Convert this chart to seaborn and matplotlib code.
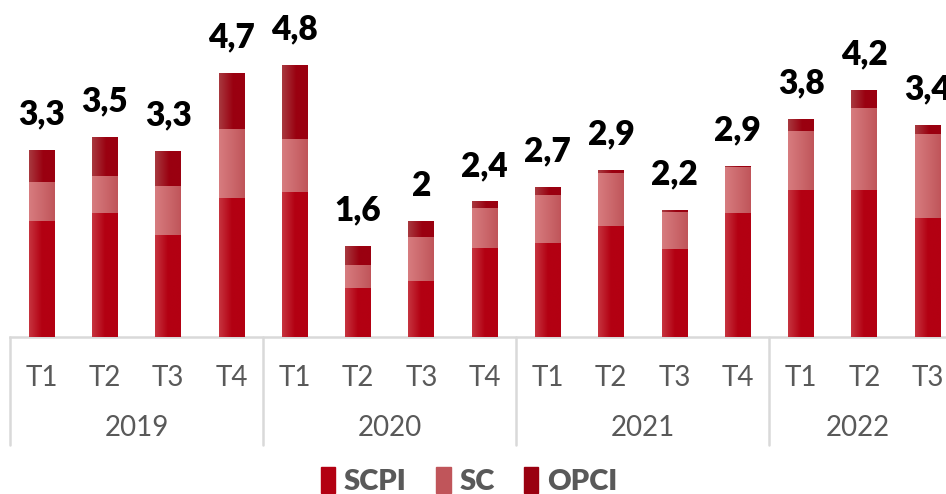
import numpy as np
import pandas as pd
import matplotlib.pyplot as plt
import matplotlib.colors as mcolors
import matplotlib.transforms as mtransforms
from matplotlib.patches import Patch
import seaborn as sns

# data
years = ["2019", "2020", "2021", "2022"]
quarters = ["T1", "T2", "T3", "T4", "T1", "T2", "T3", "T4",
            "T1", "T2", "T3", "T4", "T1", "T2", "T3"]
scpi = [2.04, 2.19, 1.79, 2.46, 2.55, 0.85, 0.99, 1.56, 1.66, 1.95, 1.54, 2.19, 2.60, 2.60, 2.09]
sc = [0.69, 0.65, 0.88, 1.22, 0.94, 0.41, 0.78, 0.71, 0.85, 0.94, 0.67, 0.81, 1.04, 1.45, 1.50]
opci = [0.57, 0.69, 0.62, 0.99, 1.31, 0.34, 0.27, 0.12, 0.14, 0.05, 0.035, 0.02, 0.21, 0.32, 0.16]
labels = ["3,3", "3,5", "3,3", "4,7", "4,8", "1,6", "2", "2,4",
          "2,7", "2,9", "2,2", "2,9", "3,8", "4,2", "3,4"]

cats = [f"{years[i // 4]} {q}" for i, q in enumerate(quarters)]
df = pd.DataFrame({"cat": cats, "SCPI": scpi, "SC": sc, "OPCI": opci})
df["mid"] = df["SCPI"] + df["SC"]
df["total"] = df["mid"] + df["OPCI"]

sns.set_theme(style="white")
plt.rcParams["font.family"] = ["Lato", "DejaVu Sans"]

fig = plt.figure(figsize=(9.46, 4.94), dpi=100)
ax = fig.add_axes([10 / 946, 157 / 494, 936 / 946, 337 / 494])

# colours: (left edge, right edge, where the gradient stops)
styles = {
    "OPCI": ("#A8393F", "#9A0010", 0.55),
    "SC": ("#D77C7F", "#C0555A", 1.0),
    "SCPI": ("#C6343F", "#B30012", 0.5),
}


def shade(patches, key, z):
    left, right, stop = styles[key]
    c0 = np.array(mcolors.to_rgb(left))
    c1 = np.array(mcolors.to_rgb(right))
    t = np.clip(np.linspace(0, 1, 64) / stop, 0, 1)
    grad = (c0[None, :] * (1 - t[:, None]) + c1[None, :] * t[:, None])[None, :, :]
    for p in patches:
        x0, y0 = p.get_x(), p.get_y()
        ax.imshow(grad, extent=[x0, x0 + p.get_width(), y0, y0 + p.get_height()],
                  aspect="auto", zorder=z, interpolation="bilinear")


# stacked bars: draw cumulative totals on top of each other
for z, (col, key) in enumerate([("total", "OPCI"), ("mid", "SC"), ("SCPI", "SCPI")]):
    n0 = len(ax.patches)
    sns.barplot(data=df, x="cat", y=col, order=cats, color=styles[key][1],
                width=0.41, ax=ax, saturation=1)
    shade(ax.patches[n0:], key, 2 + z)

# total labels
for i, (tot, lab) in enumerate(zip(df["total"], labels)):
    ax.annotate(lab, (i, tot), xytext=(0, 26), textcoords="offset points",
                ha="center", va="center", fontsize=24, fontweight="heavy",
                color="black", zorder=10)

ax.set_xlim(-0.5, 14.29)
ax.set_ylim(0, 5.965)
ax.set_yticks([])
ax.set_xlabel("")
ax.set_ylabel("")
for s in ["left", "right", "top"]:
    ax.spines[s].set_visible(False)
ax.spines["bottom"].set_color("#D9D9D9")
ax.spines["bottom"].set_linewidth(1.8)

ax.set_xticks(range(len(cats)))
ax.set_xticklabels(quarters)
ax.tick_params(axis="x", length=0, pad=20, labelsize=20, labelcolor="#595959")

# year groups
trans = mtransforms.blended_transform_factory(ax.transData, ax.transAxes)
bounds = [-0.5, 3.5, 7.5, 11.5]
for b in bounds:
    ax.plot([b, b], [0, -108 / 337], transform=trans, color="#D9D9D9",
            lw=1.8, clip_on=False)
ends = bounds[1:] + [ax.get_xlim()[1]]
for y, b0, b1 in zip(years, bounds, ends):
    ax.text((b0 + b1) / 2, -91 / 337, y, transform=trans, ha="center", va="center",
            fontsize=20, color="#595959")

handles = [Patch(color=styles[k][1]) for k in ["SCPI", "SC", "OPCI"]]
leg = fig.legend(handles, ["SCPI", "SC", "OPCI"], loc="center",
                 bbox_to_anchor=(469 / 946, 1 - 481 / 494), ncol=3, frameon=False,
                 handlelength=0.5, handleheight=1.0, handletextpad=0.3,
                 columnspacing=1.0, prop={"weight": "heavy", "size": 21})
for t in leg.get_texts():
    t.set_color("#595959")

fig.savefig("out.png", dpi=100)
